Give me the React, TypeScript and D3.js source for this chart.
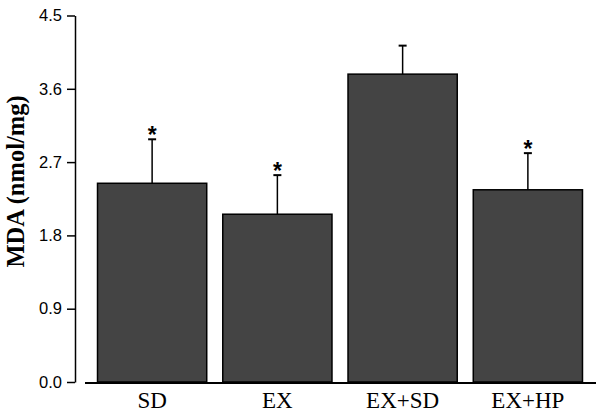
import React, { useEffect, useRef } from 'react';
import * as d3 from 'd3';

const groups = ['SD', 'EX', 'EX+SD', 'EX+HP'];
const means = [2.44, 2.06, 3.78, 2.36];
const errors = [0.54, 0.48, 0.35, 0.45];
const significant = [true, true, false, true];
const yTicks = [0, 0.9, 1.8, 2.7, 3.6, 4.5];

const App = () => {
    const ref = useRef<SVGSVGElement>(null);

    useEffect(() => {
        if (!ref.current) return;
        const svg = d3.select(ref.current);
        svg.selectAll('*').remove();

        // y scale: 0 at the baseline, 4.5 at the top tick
        const y = d3.scaleLinear().domain([0, 4.5]).range([382, 15.5]);
        const x = d3.scaleBand().domain(groups).range([90, 590]).paddingInner(0.128).paddingOuter(0.06);

        // y axis
        const yAxis = svg.append('g')
            .attr('transform', 'translate(75,0)')
            .call(d3.axisLeft(y).tickValues(yTicks).tickFormat(d3.format('.1f')).tickSize(8).tickSizeOuter(0));
        yAxis.select('.domain').attr('stroke', '#000').attr('stroke-width', 1.5);
        yAxis.selectAll('.tick line').attr('stroke', '#000').attr('stroke-width', 1.5);
        yAxis.selectAll('.tick text')
            .attr('x', -13)
            .attr('fill', '#000')
            .style('font-family', 'Liberation Sans, Arial, sans-serif')
            .style('font-size', '16.5px');

        // baseline
        svg.append('line')
            .attr('x1', 85).attr('x2', 596)
            .attr('y1', y(0) + 1).attr('y2', y(0) + 1)
            .attr('stroke', '#000').attr('stroke-width', 2);

        // bars
        svg.selectAll('.bar')
            .data(groups)
            .enter().append('rect')
            .attr('x', d => x(d)!)
            .attr('width', x.bandwidth())
            .attr('y', (d, i) => y(means[i]))
            .attr('height', (d, i) => y(0) - y(means[i]))
            .attr('fill', '#444444')
            .attr('stroke', '#000')
            .attr('stroke-width', 1.5);

        // error bars
        const eb = svg.selectAll('.err').data(groups).enter().append('g');
        eb.append('line')
            .attr('x1', d => x(d)! + x.bandwidth() / 2)
            .attr('x2', d => x(d)! + x.bandwidth() / 2)
            .attr('y1', (d, i) => y(means[i]))
            .attr('y2', (d, i) => y(means[i] + errors[i]))
            .attr('stroke', '#000').attr('stroke-width', 1.5);
        eb.append('line')
            .attr('x1', d => x(d)! + x.bandwidth() / 2 - 4)
            .attr('x2', d => x(d)! + x.bandwidth() / 2 + 4)
            .attr('y1', (d, i) => y(means[i] + errors[i]))
            .attr('y2', (d, i) => y(means[i] + errors[i]))
            .attr('stroke', '#000').attr('stroke-width', 2);

        // significance asterisks
        svg.selectAll('.star')
            .data(groups.filter((d, i) => significant[i]))
            .enter().append('text')
            .attr('x', d => x(d)! + x.bandwidth() / 2)
            .attr('y', d => { const i = groups.indexOf(d); return y(means[i] + errors[i]) + 3.5; })
            .attr('text-anchor', 'middle')
            .style('font-family', 'Liberation Sans, Arial, sans-serif')
            .style('font-weight', 'bold')
            .style('font-size', '23px')
            .text('*');

        // x labels
        svg.selectAll('.xlab')
            .data(groups)
            .enter().append('text')
            .attr('x', d => x(d)! + x.bandwidth() / 2)
            .attr('y', 408)
            .attr('text-anchor', 'middle')
            .style('font-family', 'Liberation Serif, Times New Roman, serif')
            .style('font-size', '23px')
            .text(d => d);

        // y axis title
        svg.append('text')
            .attr('transform', 'translate(24,181.5) rotate(-90)')
            .attr('text-anchor', 'middle')
            .style('font-family', 'Liberation Serif, Times New Roman, serif')
            .style('font-weight', 'bold')
            .style('font-size', '24.5px')
            .text('MDA (nmol/mg)');
    }, []);

    return (
        <svg ref={ref} width={600} height={416} style={{ position: 'absolute', left: 0, top: 0, background: '#fff' }} />
    );
};

export default App;
